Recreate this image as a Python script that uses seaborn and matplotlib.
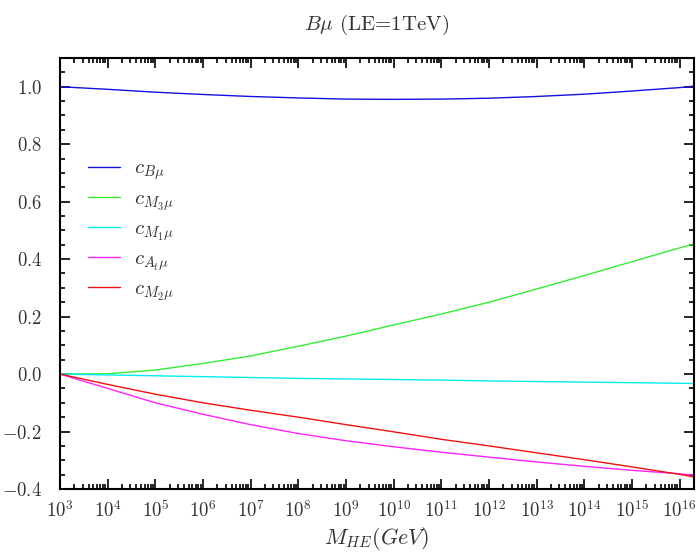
import numpy as np
import pandas as pd
import matplotlib
matplotlib.use("Agg")
import matplotlib.pyplot as plt
import matplotlib.ticker as mticker
import seaborn as sns

# ---- data ----
log_m = [3, 4, 5, 6, 7, 8, 9, 10, 11, 12, 13, 14, 15, 16, 16.301]
c_Bmu = [1.0, 0.991, 0.981, 0.973, 0.966, 0.961, 0.957, 0.956, 0.957, 0.960, 0.966, 0.974, 0.985, 0.997, 1.002]
c_M3mu = [0.0, 0.001, 0.014, 0.037, 0.063, 0.097, 0.132, 0.171, 0.209, 0.250, 0.296, 0.343, 0.391, 0.439, 0.453]
c_M1mu = [0.0, -0.003, -0.006, -0.009, -0.012, -0.015, -0.017, -0.019, -0.021, -0.024, -0.026, -0.028, -0.030, -0.032, -0.033]
c_Atmu = [0.0, -0.050, -0.100, -0.140, -0.176, -0.207, -0.232, -0.253, -0.272, -0.289, -0.306, -0.321, -0.335, -0.347, -0.352]
c_M2mu = [0.0, -0.036, -0.070, -0.100, -0.126, -0.150, -0.176, -0.201, -0.227, -0.250, -0.274, -0.298, -0.323, -0.349, -0.358]

x_tick_exponents = list(range(3, 17))

series_names = ["Bmu", "M3mu", "M1mu", "Atmu", "M2mu"]
series_labels = [r"$c_{B\mu}$", r"$c_{M_3\mu}$", r"$c_{M_1\mu}$", r"$c_{A_t\mu}$", r"$c_{M_2\mu}$"]
series_colors = ["#1010e0", "#33ee33", "#00eeee", "#ff22ff", "#ee1111"]

x_vals = [10.0 ** v for v in log_m]
frames = []
for name, vals in zip(series_names, [c_Bmu, c_M3mu, c_M1mu, c_Atmu, c_M2mu]):
    frames.append(pd.DataFrame({"M": x_vals, "c": vals, "series": name}))
df = pd.concat(frames, ignore_index=True)

# ---- style ----
sns.set_style("ticks")
plt.rcParams["font.family"] = ["serif"]
plt.rcParams["font.serif"] = ["cmr10", "DejaVu Serif"]
plt.rcParams["mathtext.fontset"] = "cm"
plt.rcParams["axes.formatter.use_mathtext"] = True
plt.rcParams["axes.unicode_minus"] = False

fig = plt.figure(figsize=(6.96, 5.56), dpi=100)
ax = fig.add_axes([0.0862, 0.1205, 0.9108, 0.7752])

sns.lineplot(data=df, x="M", y="c", hue="series", hue_order=series_names,
             palette=dict(zip(series_names, series_colors)), linewidth=1.0,
             ax=ax, legend=False, sort=False)

ax.set_xscale("log")
ax.set_xlim(1e3, 2e16)
ax.set_ylim(-0.4, 1.1)

ax.xaxis.set_major_locator(mticker.FixedLocator([10.0 ** e for e in x_tick_exponents]))
ax.xaxis.set_minor_locator(mticker.LogLocator(base=10, subs=np.arange(2, 10), numticks=200))
ax.xaxis.set_major_formatter(mticker.FuncFormatter(lambda v, p: r"$10^{%d}$" % round(np.log10(v))))
ax.xaxis.set_minor_formatter(mticker.NullFormatter())
ax.yaxis.set_major_locator(mticker.MultipleLocator(0.2))
ax.yaxis.set_minor_locator(mticker.MultipleLocator(0.05))
ax.yaxis.set_major_formatter(mticker.FuncFormatter(lambda v, p: r"$%.1f$" % v if abs(v) > 1e-9 else r"$0.0$"))

ax.tick_params(which="both", direction="in", top=True, right=True, colors="black",
               labelcolor="#333333", labelsize=13.5, width=1.2)
ax.tick_params(which="major", length=7)
ax.tick_params(which="minor", length=3.5)
ax.tick_params(axis="x", which="major", pad=8)
ax.tick_params(axis="y", which="major", pad=13)
for s in ax.spines.values():
    s.set_linewidth(1.5)
    s.set_color("black")

ax.set_xlabel(r"$M_{HE}(GeV)$", fontsize=16, color="#333333", labelpad=3)
ax.set_ylabel("")
ax.set_title(r"$B\mu$ (LE=1TeV)", fontsize=15, color="#333333", pad=20)

handles = ax.get_lines()[:5]
leg = ax.legend(handles, series_labels, loc="upper left", bbox_to_anchor=(0.044, 0.765),
                frameon=False, fontsize=15, handlelength=1.55, labelspacing=0.34,
                handletextpad=0.65, borderaxespad=0, borderpad=0)
for t in leg.get_texts():
    t.set_color("#333333")

fig.savefig("out.png", dpi=100)
